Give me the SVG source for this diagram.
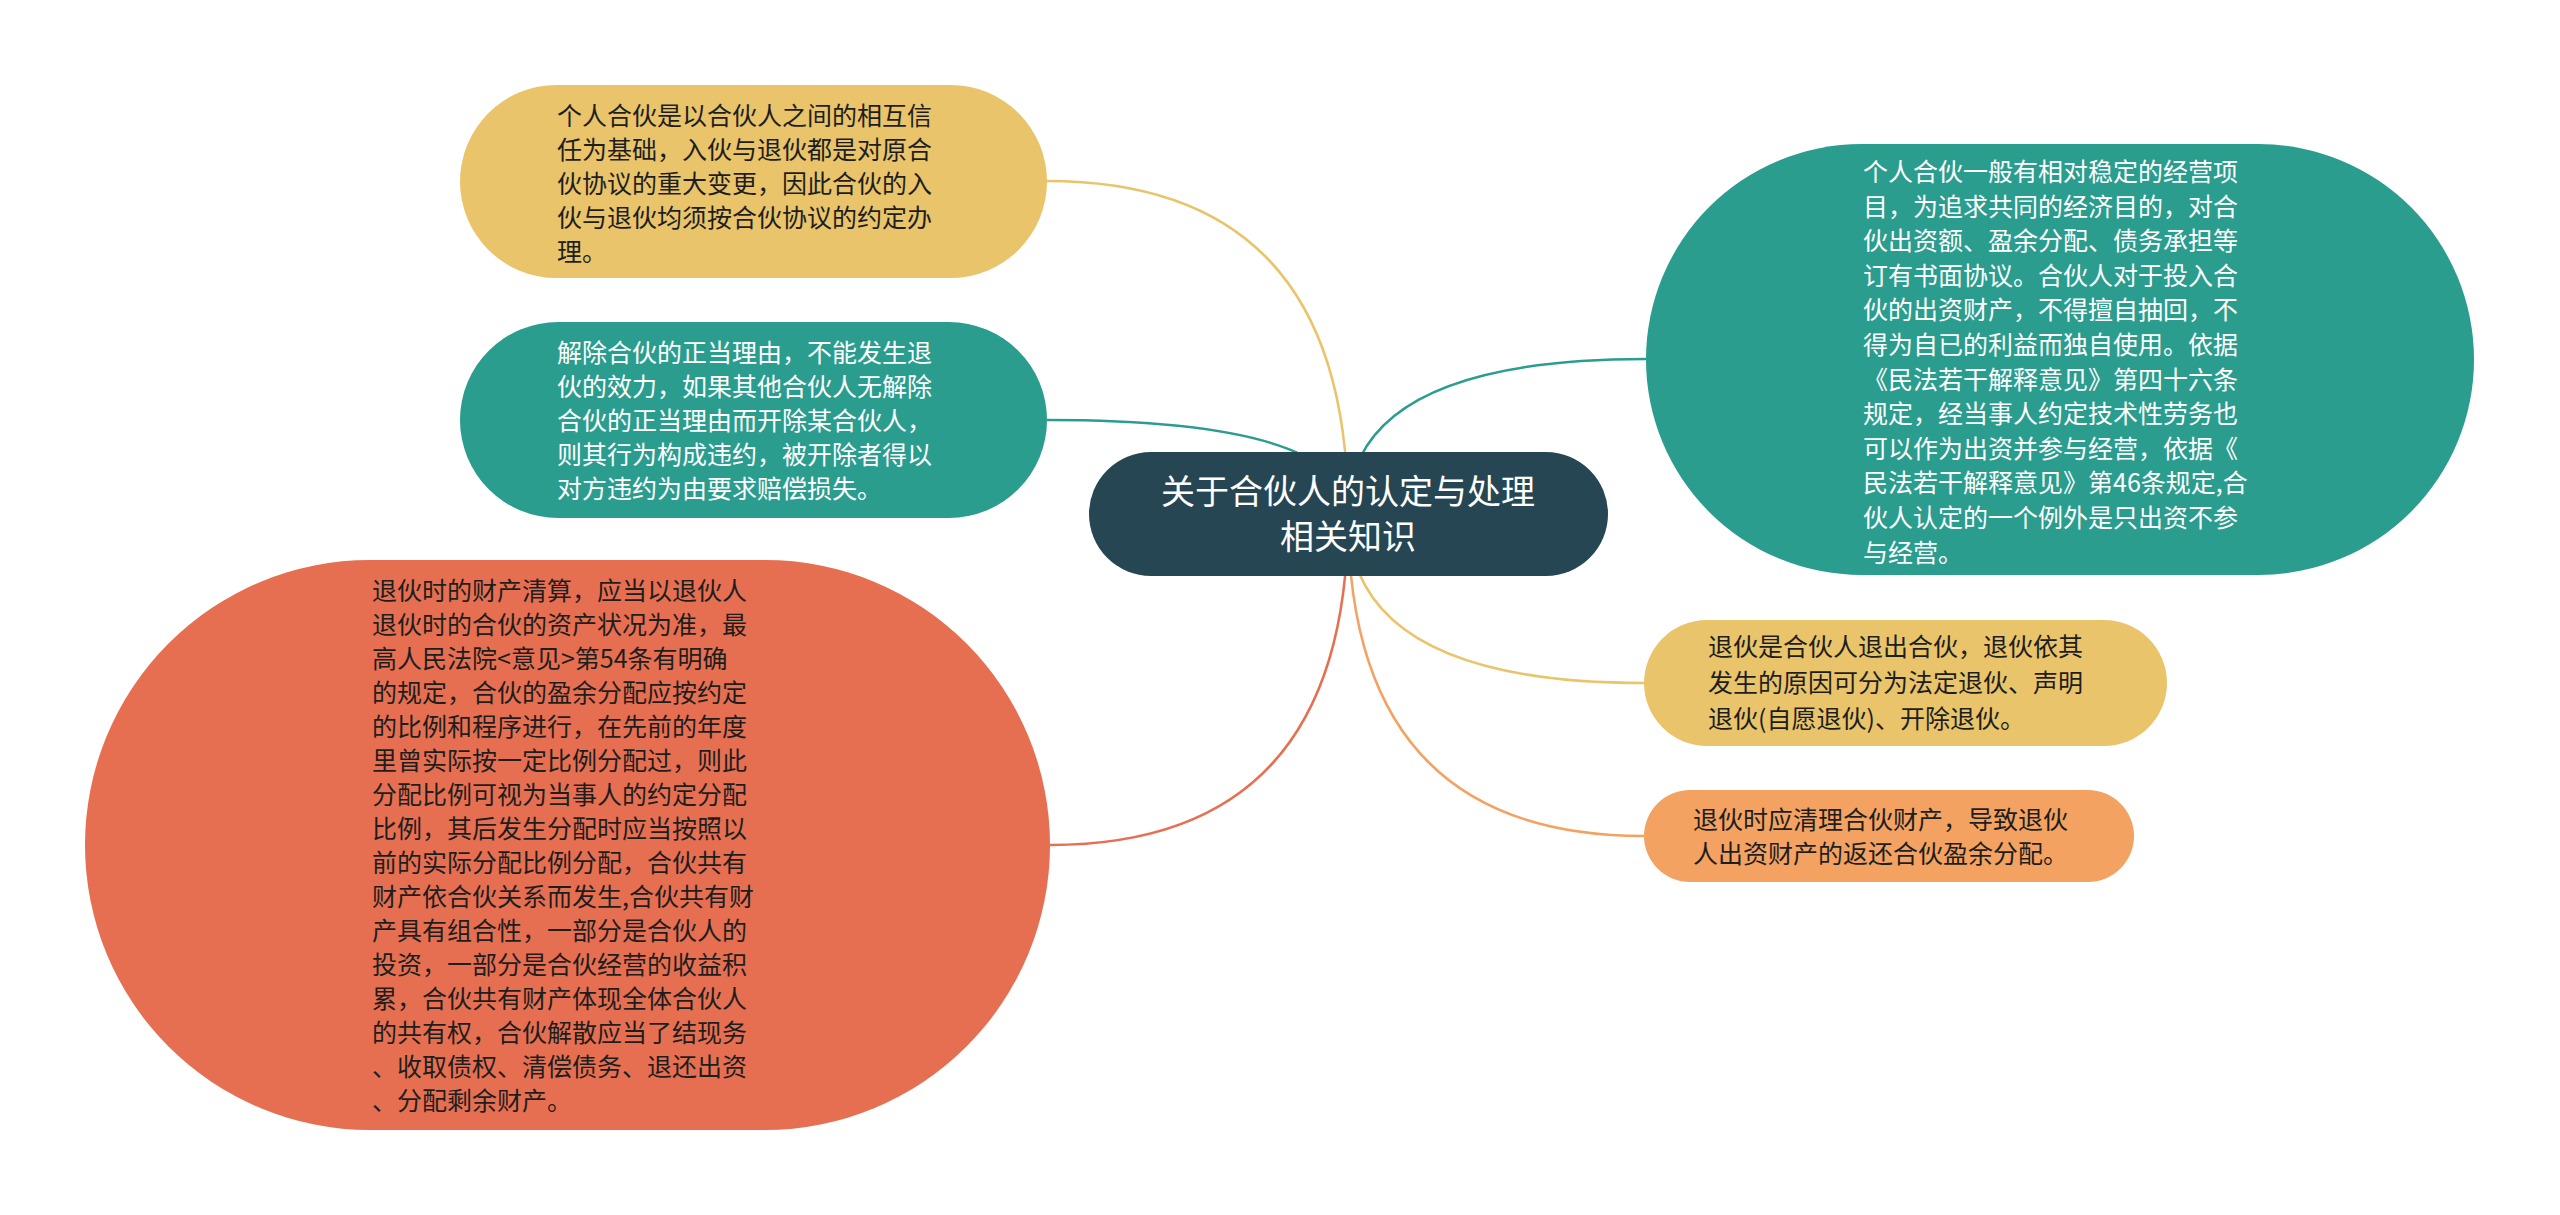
<svg xmlns="http://www.w3.org/2000/svg" width="2560" height="1215" viewBox="0 0 2560 1215">
<style>
.t{font-family:"Noto Sans CJK SC","Noto Sans",sans-serif;font-size:25px}
.dk{fill:#1e1e1e}
.wt{fill:#ffffff}
.c{fill:none;stroke-width:2.5}
</style>
<rect width="2560" height="1215" fill="#ffffff"/>
<g id="connectors">
<path class="c" stroke="#e9c46a" d="M1348 514 Q1348 181 1047 181"/>
<path class="c" stroke="#2a9d8f" d="M1348 514 Q1348 420 1047 420"/>
<path class="c" stroke="#e76f51" d="M1348 514 Q1348 845 1050 845"/>
<path class="c" stroke="#2a9d8f" d="M1348 514 Q1348 359 1646 359"/>
<path class="c" stroke="#e9c46a" d="M1348 514 Q1348 683 1644 683"/>
<path class="c" stroke="#f4a261" d="M1348 514 Q1348 836 1644 836"/>
</g>
<g id="center">
<rect x="1089" y="452" width="519" height="124" rx="62" fill="#264653"/>
<text class="t wt" style="font-size:34px" text-anchor="middle"><tspan x="1348" y="504">关于合伙人的认定与处理</tspan><tspan x="1348" y="549">相关知识</tspan></text>
</g>
<g id="node1">
<rect x="460" y="85" width="587" height="193" rx="96.5" fill="#e9c46a"/>
<text class="t dk"><tspan x="557" y="125">个人合伙是以合伙人之间的相互信</tspan><tspan x="557" y="159">任为基础，入伙与退伙都是对原合</tspan><tspan x="557" y="193">伙协议的重大变更，因此合伙的入</tspan><tspan x="557" y="227">伙与退伙均须按合伙协议的约定办</tspan><tspan x="557" y="261">理。</tspan></text>
</g>
<g id="node2">
<rect x="460" y="322" width="587" height="196" rx="98" fill="#2a9d8f"/>
<text class="t wt"><tspan x="557" y="362">解除合伙的正当理由，不能发生退</tspan><tspan x="557" y="396">伙的效力，如果其他合伙人无解除</tspan><tspan x="557" y="430">合伙的正当理由而开除某合伙人，</tspan><tspan x="557" y="464">则其行为构成违约，被开除者得以</tspan><tspan x="557" y="498">对方违约为由要求赔偿损失。</tspan></text>
</g>
<g id="node3">
<rect x="85" y="560" width="965" height="570" rx="285" fill="#e76f51"/>
<text class="t dk"><tspan x="372" y="600">退伙时的财产清算，应当以退伙人</tspan><tspan x="372" y="634">退伙时的合伙的资产状况为准，最</tspan><tspan x="372" y="668">高人民法院&lt;意见&gt;第54条有明确</tspan><tspan x="372" y="702">的规定，合伙的盈余分配应按约定</tspan><tspan x="372" y="736">的比例和程序进行，在先前的年度</tspan><tspan x="372" y="770">里曾实际按一定比例分配过，则此</tspan><tspan x="372" y="804">分配比例可视为当事人的约定分配</tspan><tspan x="372" y="838">比例，其后发生分配时应当按照以</tspan><tspan x="372" y="872">前的实际分配比例分配，合伙共有</tspan><tspan x="372" y="906">财产依合伙关系而发生,合伙共有财</tspan><tspan x="372" y="940">产具有组合性，一部分是合伙人的</tspan><tspan x="372" y="974">投资，一部分是合伙经营的收益积</tspan><tspan x="372" y="1008">累，合伙共有财产体现全体合伙人</tspan><tspan x="372" y="1042">的共有权，合伙解散应当了结现务</tspan><tspan x="372" y="1076">、收取债权、清偿债务、退还出资</tspan><tspan x="372" y="1110">、分配剩余财产。</tspan></text>
</g>
<g id="node4">
<rect x="1646" y="144" width="828" height="431" rx="215.5" fill="#2a9d8f"/>
<text class="t wt"><tspan x="1863" y="181">个人合伙一般有相对稳定的经营项</tspan><tspan x="1863" y="215.6">目，为追求共同的经济目的，对合</tspan><tspan x="1863" y="250.2">伙出资额、盈余分配、债务承担等</tspan><tspan x="1863" y="284.8">订有书面协议。合伙人对于投入合</tspan><tspan x="1863" y="319.4">伙的出资财产，不得擅自抽回，不</tspan><tspan x="1863" y="354">得为自已的利益而独自使用。依据</tspan><tspan x="1863" y="388.6">《民法若干解释意见》第四十六条</tspan><tspan x="1863" y="423.2">规定，经当事人约定技术性劳务也</tspan><tspan x="1863" y="457.8">可以作为出资并参与经营，依据《</tspan><tspan x="1863" y="492.4">民法若干解释意见》第46条规定,合</tspan><tspan x="1863" y="527">伙人认定的一个例外是只出资不参</tspan><tspan x="1863" y="561.6">与经营。</tspan></text>
</g>
<g id="node5">
<rect x="1644" y="620" width="523" height="126" rx="63" fill="#e9c46a"/>
<text class="t dk"><tspan x="1708" y="656">退伙是合伙人退出合伙，退伙依其</tspan><tspan x="1708" y="692">发生的原因可分为法定退伙、声明</tspan><tspan x="1708" y="728">退伙(自愿退伙)、开除退伙。</tspan></text>
</g>
<g id="node6">
<rect x="1644" y="790" width="490" height="92" rx="46" fill="#f4a261"/>
<text class="t dk"><tspan x="1693" y="829">退伙时应清理合伙财产，导致退伙</tspan><tspan x="1693" y="863">人出资财产的返还合伙盈余分配。</tspan></text>
</g>
</svg>
